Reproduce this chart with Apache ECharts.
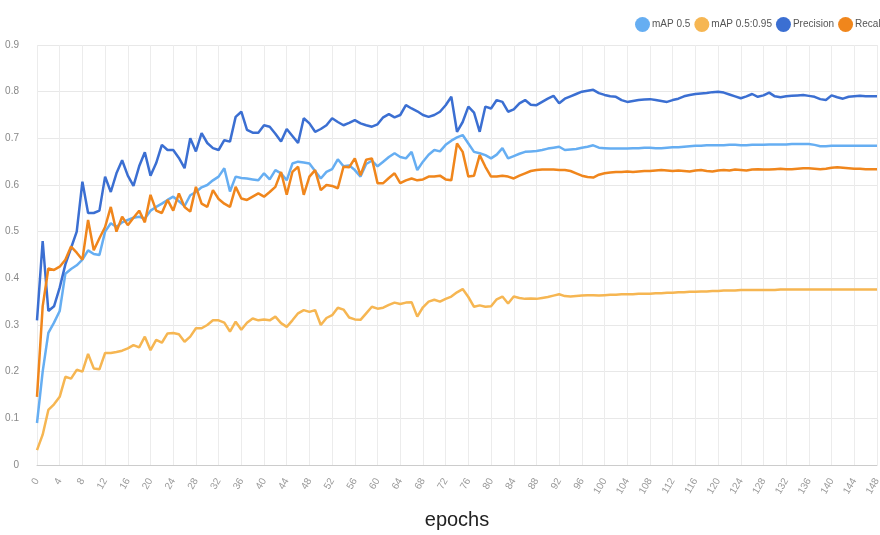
<!DOCTYPE html>
<html>
<head>
<meta charset="utf-8">
<script src="https://cdn.jsdelivr.net/npm/echarts@6/dist/echarts.min.js"></script>
<style>
html,body{margin:0;padding:0;background:#fff;}
#chart{width:880px;height:535px;}
</style>
</head>
<body>
<div id="chart"></div>
<script>
var seriesNames = ["mAP 0.5", "mAP 0.5:0.95", "Precision", "Recall"];
var seriesColors = ["#66aef2", "#f6b652", "#3b6fd2", "#f0861c"];

var mAP50 = [
0.09,0.20,0.283,0.305,0.33,0.41,0.42,0.428,0.44,0.46,
0.452,0.45,0.50,0.518,0.51,0.52,0.525,0.53,0.532,0.528,
0.545,0.553,0.56,0.568,0.575,0.565,0.555,0.578,0.585,0.595,
0.60,0.61,0.618,0.636,0.586,0.618,0.615,0.614,0.612,0.61,
0.625,0.612,0.632,0.625,0.61,0.646,0.65,0.648,0.646,0.63,
0.614,0.628,0.634,0.655,0.64,0.642,0.632,0.618,0.645,0.652,
0.64,0.65,0.66,0.668,0.66,0.657,0.671,0.632,0.65,0.665,
0.675,0.672,0.686,0.695,0.702,0.707,0.689,0.671,0.668,0.664,
0.657,0.665,0.679,0.657,0.662,0.667,0.671,0.672,0.673,0.675,
0.678,0.68,0.682,0.675,0.676,0.677,0.68,0.682,0.685,0.68,
0.679,0.678,0.678,0.678,0.678,0.679,0.679,0.68,0.68,0.679,
0.679,0.68,0.681,0.681,0.682,0.683,0.684,0.684,0.685,0.685,
0.685,0.685,0.686,0.686,0.685,0.685,0.686,0.686,0.686,0.687,
0.687,0.687,0.687,0.688,0.688,0.688,0.688,0.686,0.683,0.683,
0.684,0.684,0.684,0.684,0.684,0.684,0.684,0.684,0.684
];

var mAP5095 = [
0.032,0.065,0.118,0.13,0.146,0.189,0.185,0.204,0.2,0.238,
0.207,0.205,0.24,0.24,0.242,0.245,0.25,0.257,0.252,0.275,
0.246,0.268,0.262,0.282,0.283,0.28,0.264,0.275,0.293,0.293,
0.30,0.31,0.31,0.305,0.286,0.307,0.29,0.305,0.314,0.31,
0.312,0.31,0.318,0.304,0.296,0.31,0.325,0.332,0.328,0.332,
0.30,0.315,0.321,0.337,0.333,0.316,0.312,0.311,0.325,0.339,
0.335,0.337,0.343,0.348,0.345,0.348,0.349,0.318,0.338,0.35,
0.354,0.35,0.356,0.361,0.37,0.377,0.36,0.339,0.342,0.339,
0.34,0.355,0.361,0.346,0.361,0.358,0.356,0.357,0.356,0.358,
0.36,0.363,0.366,0.362,0.361,0.362,0.363,0.364,0.364,0.363,
0.364,0.365,0.365,0.366,0.366,0.366,0.367,0.367,0.367,0.368,
0.368,0.369,0.369,0.37,0.37,0.371,0.371,0.372,0.372,0.373,
0.373,0.374,0.374,0.374,0.375,0.375,0.375,0.375,0.375,0.375,
0.375,0.376,0.376,0.376,0.376,0.376,0.376,0.376,0.376,0.376,
0.376,0.376,0.376,0.376,0.376,0.376,0.376,0.376,0.376
];

var precision = [
0.31,0.48,0.33,0.34,0.38,0.43,0.465,0.50,0.607,0.54,
0.54,0.545,0.618,0.585,0.625,0.653,0.62,0.598,0.64,0.67,
0.62,0.647,0.686,0.675,0.675,0.658,0.636,0.70,0.672,0.711,
0.69,0.679,0.675,0.696,0.693,0.746,0.757,0.718,0.712,0.712,
0.728,0.725,0.71,0.693,0.72,0.705,0.69,0.743,0.732,0.714,
0.72,0.728,0.743,0.735,0.728,0.733,0.739,0.732,0.728,0.725,
0.73,0.745,0.752,0.745,0.75,0.771,0.764,0.758,0.75,0.746,
0.75,0.757,0.771,0.789,0.714,0.735,0.768,0.755,0.714,0.768,
0.764,0.782,0.778,0.757,0.762,0.775,0.782,0.772,0.771,0.778,
0.785,0.791,0.775,0.785,0.79,0.795,0.8,0.802,0.804,0.797,
0.793,0.79,0.789,0.782,0.778,0.78,0.782,0.783,0.784,0.782,
0.78,0.778,0.782,0.785,0.79,0.793,0.795,0.796,0.797,0.799,
0.80,0.798,0.794,0.79,0.786,0.79,0.795,0.789,0.792,0.798,
0.79,0.788,0.79,0.791,0.792,0.793,0.791,0.789,0.784,0.782,
0.792,0.788,0.785,0.789,0.79,0.791,0.79,0.79,0.79
];

var recall = [
0.146,0.34,0.421,0.418,0.425,0.44,0.468,0.455,0.44,0.525,
0.46,0.486,0.51,0.553,0.50,0.532,0.514,0.53,0.545,0.52,
0.579,0.545,0.54,0.568,0.545,0.582,0.553,0.543,0.596,0.56,
0.553,0.589,0.57,0.56,0.553,0.596,0.571,0.568,0.575,0.582,
0.575,0.585,0.596,0.628,0.579,0.628,0.639,0.579,0.618,0.632,
0.589,0.6,0.598,0.593,0.639,0.638,0.657,0.621,0.654,0.657,
0.604,0.604,0.615,0.625,0.604,0.61,0.614,0.61,0.612,0.618,
0.618,0.62,0.612,0.61,0.689,0.671,0.618,0.62,0.664,0.639,
0.618,0.618,0.62,0.618,0.614,0.62,0.625,0.63,0.632,0.633,
0.633,0.633,0.632,0.632,0.63,0.625,0.62,0.617,0.616,0.622,
0.625,0.627,0.628,0.628,0.629,0.628,0.629,0.63,0.63,0.631,
0.632,0.631,0.63,0.631,0.63,0.629,0.631,0.632,0.63,0.629,
0.631,0.632,0.631,0.633,0.632,0.631,0.633,0.634,0.633,0.633,
0.634,0.635,0.634,0.634,0.635,0.636,0.636,0.635,0.634,0.635,
0.637,0.638,0.637,0.636,0.635,0.635,0.634,0.634,0.634
];

var epochs = [];
for (var i = 0; i < precision.length; i++) epochs.push(String(i));

var allData = [mAP50, mAP5095, precision, recall];

var chart = echarts.init(document.getElementById('chart'));
chart.setOption({
  animation: false,
  backgroundColor: '#ffffff',
  color: seriesColors,
  legend: {
    data: seriesNames,
    left: 635,
    top: 17,
    width: 600,
    padding: 0,
    icon: 'circle',
    itemWidth: 15,
    itemHeight: 15,
    itemGap: 4,
    textStyle: { fontSize: 10, color: '#555', fontFamily: 'Liberation Sans', padding: [0, 0, 0, -3] }
  },
  grid: { left: 37, right: 3, top: 45, bottom: 70, containLabel: false, outerBoundsMode: 'none' },
  xAxis: {
    type: 'category',
    data: epochs,
    boundaryGap: false,
    name: 'epochs',
    nameLocation: 'middle',
    nameGap: 45,
    nameTextStyle: { fontSize: 20, color: '#222', fontFamily: 'Liberation Sans' },
    axisLine: { lineStyle: { color: '#cccccc' } },
    axisTick: { show: false },
    axisLabel: { interval: 3, rotate: 60, fontSize: 10, color: '#999', margin: 14 },
    splitLine: { show: true, interval: 3, lineStyle: { color: '#ececec' } }
  },
  yAxis: {
    type: 'value',
    min: 0, max: 0.9, interval: 0.1,
    axisLine: { show: false },
    axisTick: { show: false },
    axisLabel: { fontSize: 10, color: '#888', margin: 18, formatter: function (v) { return String(Math.round(v * 10) / 10); } },
    splitLine: { lineStyle: { color: '#e8e8e8' } }
  },
  series: seriesNames.map(function (n, k) {
    return {
      name: n, type: 'line', data: allData[k], showSymbol: false, symbol: 'none',
      lineStyle: { width: 2.5, color: seriesColors[k] },
      itemStyle: { color: seriesColors[k] }
    };
  })
});
</script>
</body>
</html>
